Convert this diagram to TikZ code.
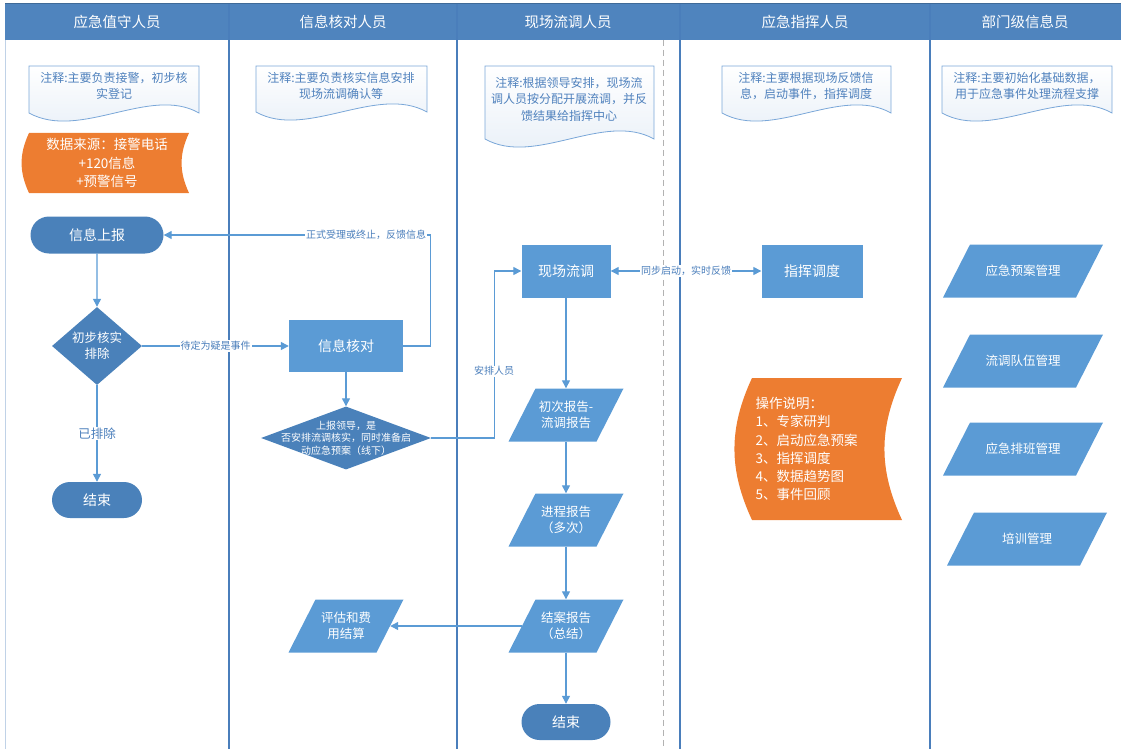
\documentclass[tikz,border=0pt]{standalone}
\usepackage{fontspec}
\setmainfont{Noto Sans CJK SC}
\usetikzlibrary{shapes.geometric,shapes.misc,arrows.meta,positioning,backgrounds}

\definecolor{headblue}{HTML}{4F84BE}
\definecolor{laneblue}{HTML}{4A7EBB}
\definecolor{boxblue}{HTML}{5B9BD5}
\definecolor{darkblue}{HTML}{4A81BA}
\definecolor{linkblue}{HTML}{5B9BD5}
\definecolor{noteline}{HTML}{7AA7D8}
\definecolor{notetext}{HTML}{4F81BD}
\definecolor{noteshade}{HTML}{E6EEF7}
\definecolor{orangebox}{HTML}{ED7D31}

\begin{document}
\begin{tikzpicture}[
    x=1pt, y=-1pt,
    font=\fontsize{14}{17}\selectfont,
    head/.style={text=white, font=\fontsize{14.5}{17}\selectfont},
    lane/.style={draw=laneblue, line width=1.2pt},
    terminal/.style={rounded rectangle, fill=darkblue, text=white, minimum height=37pt, inner sep=0pt},
    process/.style={rectangle, fill=boxblue, text=white, minimum height=53pt, inner sep=0pt},
    decision/.style={diamond, fill=darkblue, text=white, inner sep=0pt, align=center},
    dtext/.style={text=white, align=center, font=\fontsize{10}{12.5}\selectfont},
    iobox/.style={trapezium, trapezium left angle=63, trapezium right angle=117, trapezium stretches body,
        fill=boxblue, text=white, inner xsep=0pt, inner ysep=26.5pt, align=center},
    iotext/.style={text=white, align=center, font=\fontsize{12.5}{16}\selectfont},
    notetxt/.style={text=notetext, align=center, font=\fontsize{12}{16.5}\selectfont, inner sep=0pt},
    notebox/.style={draw=noteline, line width=0.8pt, top color=white, bottom color=noteshade},
    stored/.style={fill=orangebox},
    lbl/.style={fill=white, text=laneblue, font=\fontsize{10}{12}\selectfont, inner sep=1pt},
    arrow/.style={draw=linkblue, line width=1.3pt, -{Triangle[length=8pt,width=8pt]}}
]
\useasboundingbox (0,0) rectangle (1121,749);

% 泳道
\fill[headblue] (5,4) rectangle (1121,40);
\draw[headblue!80!black, line width=1pt] (5,4) -- (1121,4);
\draw[laneblue!35, line width=1pt] (5,40) -- (5,749);
\foreach \x in {229,457,680,930}
    \draw[lane] (\x,4) -- (\x,749);
\draw[gray!60, dashed, dash pattern=on 6pt off 4pt] (663,40) -- (663,749);

\node[head] (h1) at (117,22) {应急值守人员};
\node[head] (h2) at (343,22) {信息核对人员};
\node[head] (h3) at (568,22) {现场流调人员};
\node[head] (h4) at (805,22) {应急指挥人员};
\node[head] (h5) at (1025,22) {部门级信息员};

% 注释
\node[notetxt] (note1) at (114,86) {注释:主要负责接警，初步核\\实登记};
\node[notetxt] (note2) at (341,86) {注释:主要负责核实信息安排\\现场流调确认等};
\node[notetxt] (note3) at (569,99) {注释:根据领导安排，现场流\\调人员按分配开展流调，并反\\馈结果给指挥中心};
\node[notetxt] (note4) at (806,86) {注释:主要根据现场反馈信\\息，启动事件，指挥调度};
\node[notetxt] (note5) at (1027,86) {注释:主要初始化基础数据，\\用于应急事件处理流程支撑};

% 数据来源
\node[text=white, align=center, font=\fontsize{13.5}{18.5}\selectfont] (source) at (107,163)
    {数据来源：接警电话\\+120信息\\+预警信号};

% 应急值守人员
\node[terminal, minimum width=133pt] (report) at (97,235) {信息上报};
\node[decision, minimum width=90pt, minimum height=78pt, font=\fontsize{12.5}{16}\selectfont] (check1) at (97,346) {初步核实\\排除};
\node[terminal, minimum width=90pt, minimum height=36pt] (end1) at (97,500) {结束};

% 信息核对人员
\node[process, minimum width=114pt, minimum height=52pt] (verify) at (346,346) {信息核对};
\node[decision, minimum width=170pt, minimum height=63pt,
    label={[dtext]center:{上报领导，是\\否安排流调核实，同时准备启\\动应急预案（线下）}}] (check2) at (346,438) {};
\node[iobox, minimum width=115pt, label={[iotext]center:{评估和费\\用结算}}] (evalcost) at (346,626) {};

% 现场流调人员
\node[process, minimum width=89pt] (field) at (566,271) {现场流调};
\node[iobox, minimum width=115pt, label={[iotext]center:{初次报告-\\流调报告}}] (first) at (566,415) {};
\node[iobox, minimum width=115pt, label={[iotext]center:{进程报告\\（多次）}}] (progress) at (566,520) {};
\node[iobox, minimum width=115pt, label={[iotext]center:{结案报告\\（总结）}}] (final) at (566,626) {};
\node[terminal, minimum width=89pt, minimum height=36pt] (end2) at (566,722) {结束};

% 应急指挥人员
\node[process, minimum width=101pt] (command) at (812,271) {指挥调度};
\node[text=white, align=left, anchor=west, font=\fontsize{13.5}{18.2}\selectfont] (guide) at (752,449)
    {操作说明：\\1、专家研判\\2、启动应急预案\\3、指挥调度\\4、数据趋势图\\5、事件回顾};

% 部门级信息员
\node[iobox, minimum width=160pt, label={[iotext]center:应急预案管理}] (plan) at (1023,271) {};
\node[iobox, minimum width=160pt, label={[iotext]center:流调队伍管理}] (team) at (1023,361) {};
\node[iobox, minimum width=160pt, label={[iotext]center:应急排班管理}] (shift) at (1023,449) {};
\node[iobox, minimum width=160pt, label={[iotext]center:培训管理}] (train) at (1027,539) {};

% 背景形状
\begin{scope}[on background layer]
\path[notebox] (29,66) -- (199,66) -- (199,113) .. controls (150,85) and (80,141) .. (29,113) -- cycle;
\path[notebox] (256,66) -- (427,66) -- (427,112) .. controls (377,84) and (306,140) .. (256,112) -- cycle;
\path[notebox] (485,66) -- (654,66) -- (654,139) .. controls (604,111) and (535,167) .. (485,139) -- cycle;
\path[notebox] (722,66) -- (891,66) -- (891,113) .. controls (841,85) and (772,141) .. (722,113) -- cycle;
\path[notebox] (942,66) -- (1112,66) -- (1112,113) .. controls (1062,85) and (992,141) .. (942,113) -- cycle;
\path[stored] (29,133) -- (189,133) to[bend right=25] (189,193) -- (29,193) to[bend left=25] (29,133) -- cycle;
\path[stored] (752,378) -- (902,378) to[bend right=25] (902,520) -- (752,520) to[bend left=25] (752,378) -- cycle;
\end{scope}

% 连接
\draw[arrow] (report) -- (check1);
\draw[arrow] (check1) -- node[lbl, font=\fontsize{12.5}{14}\selectfont] {已排除} (end1);
\draw[arrow] (check1) -- node[lbl] {待定为疑是事件} (verify);
\draw[arrow] (verify.east) -- ++(27,0) |- node[lbl, pos=0.62] {正式受理或终止，反馈信息} (report.east);
\draw[arrow] (verify) -- (check2);
\draw[arrow] (check2.east) -- ++(63,0) |- node[lbl, pos=0.2] {安排人员} (field.west);
\draw[arrow, {Triangle[length=8pt,width=8pt]}-{Triangle[length=8pt,width=8pt]}] (field) -- node[lbl] {同步启动，实时反馈} (command);
\draw[arrow] (field) -- (first);
\draw[arrow] (first) -- (progress);
\draw[arrow] (progress) -- (final);
\draw[arrow] (final) -- (end2);
\draw[arrow] (final) -- (evalcost);

\end{tikzpicture}
\end{document}
